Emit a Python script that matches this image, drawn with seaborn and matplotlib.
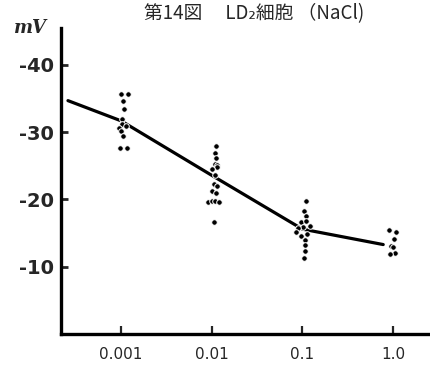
import numpy as np
import pandas as pd
import matplotlib
matplotlib.use("Agg")
import matplotlib.pyplot as plt
import seaborn as sns

# ---- data ----
tick_conc = [0.001, 0.01, 0.1, 1.0]
tick_labels = ["0.001", "0.01", "0.1", "1.0"]
y_ticks = [-40, -30, -20, -10]
y_tick_labels = ["-40", "-30", "-20", "-10"]

vals_0001 = [-35.7, -35.7, -34.7, -33.5, -32.0, -31.2, -30.9, -30.6, -30.2, -29.5, -27.6, -27.7]
jit_0001 = [0, 7, 2, 3, 1, 1, 5, -2, 0, 2, -1, 6]
vals_001 = [-27.9, -26.9, -26.1, -25.3, -25.1, -24.8, -24.5, -23.7, -22.3, -22.0,
            -21.2, -20.9, -19.7, -19.8, -19.8, -19.7, -16.6]
jit_001 = [4, 3, 4, 3, 5, 5, 0, 3, 2, 5, 0, 4, -4, 0, 3, 7, 2]
vals_01 = [-19.8, -18.3, -17.6, -16.7, -16.8, -15.9, -15.7, -16.0, -15.2, -14.6,
           -14.9, -14.0, -13.2, -12.4, -11.3]
jit_01 = [4, 2, 4, -1, 4, 1, -4, 8, -6, -1, 5, 3, 3, 3, 2]
vals_1 = [-15.4, -15.2, -14.2, -13.1, -13.0, -12.1, -11.9]
jit_1 = [-4, 3, 1, -2, 0, 2, -3]

line_conc = [0.00026, 0.001, 0.01, 0.1, 0.78]
line_vals = [-34.7, -31.7, -23.6, -15.6, -13.3]

PX_PER_DECADE = 90.67  # horizontal jitter is given in pixels

rows = []
for c, vals, jit in [(0.001, vals_0001, jit_0001), (0.01, vals_001, jit_001),
                     (0.1, vals_01, jit_01), (1.0, vals_1, jit_1)]:
    for v, j in zip(vals, jit):
        rows.append({"conc": c * 10 ** (j / PX_PER_DECADE), "mV": v})
dots = pd.DataFrame(rows)
line_df = pd.DataFrame({"conc": line_conc, "mV": line_vals})

# ---- figure ----
sns.set_style("ticks")
plt.rcParams["font.family"] = ["Noto Sans CJK JP", "DejaVu Sans"]
plt.rcParams["axes.unicode_minus"] = False

fig = plt.figure(figsize=(4.31, 3.67), dpi=100)
ax = fig.add_axes([0.1415, 0.0899, 0.8585, 0.8338])

sns.lineplot(data=line_df, x="conc", y="mV", ax=ax, color="black", linewidth=2.3,
             zorder=2)
sns.scatterplot(data=dots, x="conc", y="mV", ax=ax, color="black", s=16,
                edgecolor="white", linewidth=0.7, zorder=3)

ax.set_xscale("log")
ax.set_xlim(10 ** -3.662, 10 ** 0.419)
ax.set_ylim(0, -45.5)
ax.set_xticks(tick_conc)
ax.set_xticklabels(tick_labels)
ax.minorticks_off()
ax.set_yticks(y_ticks)
ax.set_yticklabels(y_tick_labels)
ax.set_xlabel("")
ax.set_ylabel("")

for s in ["top", "right"]:
    ax.spines[s].set_visible(False)
for s in ["left", "bottom"]:
    ax.spines[s].set_linewidth(2.4)
    ax.spines[s].set_color("black")

ax.tick_params(axis="y", direction="in", length=5, width=2, pad=5,
               labelsize=14)
ax.tick_params(axis="x", direction="in", length=6, width=1.6, pad=9,
               labelsize=11)
for lab in ax.get_yticklabels():
    lab.set_fontweight("bold")
    lab.set_family(["DejaVu Sans"])
for lab in ax.get_xticklabels():
    lab.set_family(["DejaVu Sans"])

fig.text(0.07, 0.925, "mV", fontsize=13, fontweight="bold", fontstyle="italic",
         family=["DejaVu Serif"], ha="center", va="center")
fig.text(0.59, 0.963, "第14図　 LD₂細胞 （NaCl)", fontsize=13.5,
         family=["Noto Sans CJK JP", "DejaVu Sans"], ha="center", va="center")

fig.savefig("out.png", dpi=100, facecolor="white")
